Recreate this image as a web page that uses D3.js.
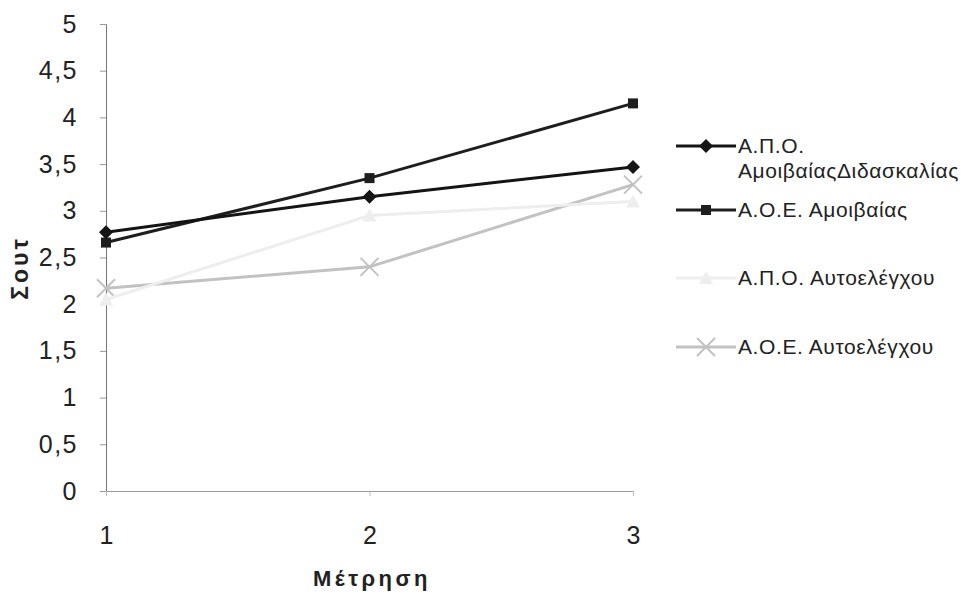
<!DOCTYPE html>
<html>
<head>
<meta charset="utf-8">
<script src="https://cdn.jsdelivr.net/npm/d3@7"></script>
<style>
  body { margin: 0; background: #fff; }
  text { font-family: "Liberation Sans", Arial, sans-serif; }
</style>
</head>
<body>
<div id="vis"></div>
<script>
// measurements on the x axis
let measures = [1, 2, 3]
let yTicks = [0, 0.5, 1, 1.5, 2, 2.5, 3, 3.5, 4, 4.5, 5]

let seriesNames = ['Α.Π.Ο. ΑμοιβαίαςΔιδασκαλίας', 'Α.Ο.Ε. Αμοιβαίας', 'Α.Π.Ο. Αυτοελέγχου', 'Α.Ο.Ε. Αυτοελέγχου']
let apoAmoib = [2.77, 3.15, 3.47]
let aoeAmoib = [2.66, 3.35, 4.15]
let apoAutoel = [2.05, 2.95, 3.1]
let aoeAutoel = [2.17, 2.4, 3.28]

let series = [
  {name: seriesNames[0], values: apoAmoib, color: '#141414', marker: 'diamond', width: 3},
  {name: seriesNames[1], values: aoeAmoib, color: '#1e1e1e', marker: 'square', width: 3},
  {name: seriesNames[2], values: apoAutoel, color: '#eeeeee', marker: 'triangle', width: 3},
  {name: seriesNames[3], values: aoeAutoel, color: '#c2c2c2', marker: 'cross', width: 3}
]

let width = 973, height = 593

let svg = d3.select('#vis').append('svg')
  .attr('width', width)
  .attr('height', height)

let x = d3.scaleLinear().domain([1, 3]).range([106, 633])
let y = d3.scaleLinear().domain([0, 5]).range([491, 24])

// y axis
let yAxis = svg.append('g')
  .attr('transform', 'translate(106,0)')
  .call(d3.axisLeft(y).tickValues(yTicks).tickSize(6).tickPadding(22)
    .tickFormat(d => String(d).replace('.', ',')))
yAxis.select('.domain').attr('stroke', '#777').attr('stroke-width', 1)
yAxis.selectAll('.tick line').attr('stroke', '#999')
yAxis.selectAll('.tick text')
  .style('font-size', '25px').style('letter-spacing', '1.5px')
  .style('font-family', '"Liberation Sans", Arial, sans-serif').attr('fill', '#222')

// x axis
let xAxis = svg.append('g')
  .attr('transform', 'translate(0,491)')
  .call(d3.axisBottom(x).tickValues(measures).tickSize(5).tickPadding(30)
    .tickFormat(d3.format('d')))
xAxis.select('.domain').attr('stroke', '#999').attr('stroke-width', 1)
xAxis.selectAll('.tick line').attr('stroke', '#bbb')
xAxis.selectAll('.tick text')
  .style('font-size', '25px')
  .style('font-family', '"Liberation Sans", Arial, sans-serif').attr('fill', '#222')

svg.append('text')
  .attr('transform', 'translate(28,268) rotate(-90)')
  .attr('text-anchor', 'middle')
  .style('font-size', '23px').attr('font-weight', 'bold').attr('fill', '#222')
  .style('letter-spacing', '3px')
  .text('Σουτ')

svg.append('text')
  .attr('x', 372).attr('y', 586)
  .attr('text-anchor', 'middle')
  .style('font-size', '22px').attr('font-weight', 'bold').attr('fill', '#222')
  .style('letter-spacing', '3.5px')
  .text('Μέτρηση')

let line = d3.line()
  .x((d, i) => x(measures[i]))
  .y(d => y(d))

function drawMarker(g, type, color) {
  if (type === 'diamond') {
    g.append('path').attr('d', 'M0,-7L7,0L0,7L-7,0Z').attr('fill', color)
  } else if (type === 'square') {
    g.append('rect').attr('x', -5).attr('y', -5).attr('width', 10).attr('height', 10).attr('fill', color)
  } else if (type === 'triangle') {
    g.append('path').attr('d', 'M0,-7L7,6L-7,6Z').attr('fill', color)
  } else {
    g.append('path').attr('d', 'M-9,-9L9,9M-9,9L9,-9').attr('stroke', color).attr('stroke-width', 2)
  }
}

// draw lighter lines first
series.slice().reverse().forEach(s => {
  svg.append('path')
    .datum(s.values)
    .attr('d', line)
    .attr('fill', 'none')
    .attr('stroke', s.color)
    .attr('stroke-width', s.width)
  s.values.forEach((v, i) => {
    let g = svg.append('g').attr('transform', `translate(${x(measures[i])},${y(v)})`)
    drawMarker(g, s.marker, s.color)
  })
})

// legend
let legendY = [146, 210, 278, 347]
series.forEach((s, i) => {
  let g = svg.append('g').attr('transform', `translate(676,${legendY[i]})`)
  g.append('line').attr('x1', 0).attr('x2', 60).attr('y1', 0).attr('y2', 0)
    .attr('stroke', s.color).attr('stroke-width', 3)
  let mg = g.append('g').attr('transform', 'translate(30,0)')
  drawMarker(mg, s.marker, s.color)
  let t = g.append('text').attr('x', 62).attr('y', 7)
    .style('font-size', '21px').style('letter-spacing', '0.6px').attr('fill', '#222')
  if (i === 0) {
    t.append('tspan').attr('x', 62).text('Α.Π.Ο.')
    t.append('tspan').attr('x', 62).attr('dy', 25).text('ΑμοιβαίαςΔιδασκαλίας')
  } else {
    t.text(s.name)
  }
})
</script>
</body>
</html>
